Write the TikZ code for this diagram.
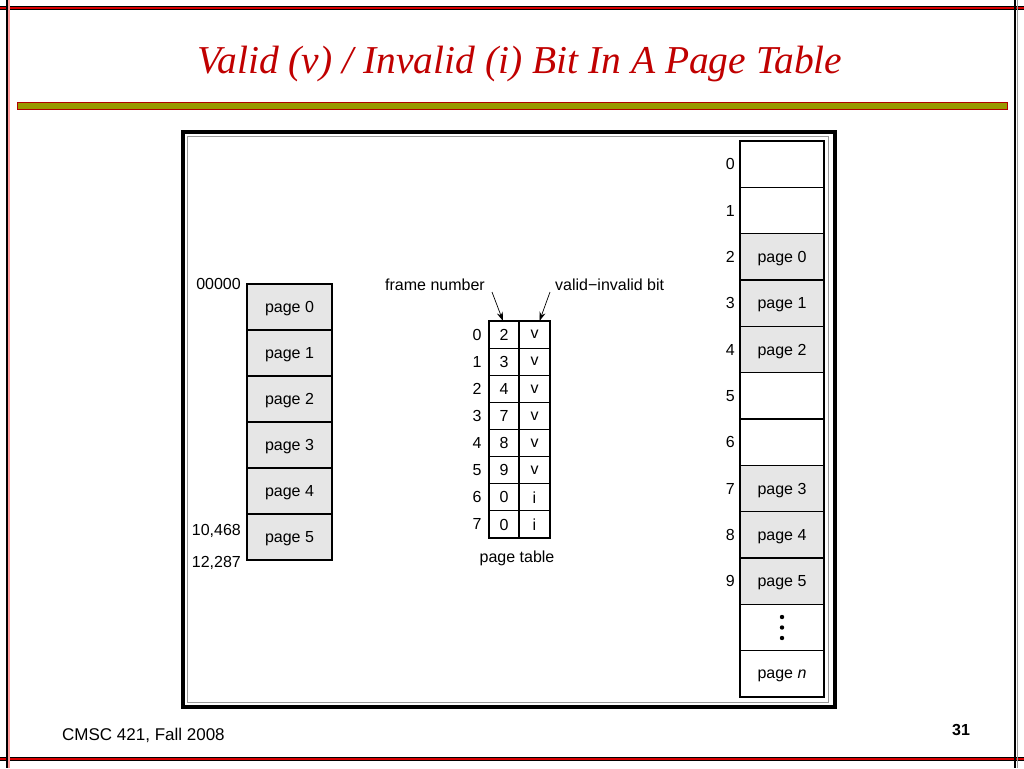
\documentclass[tikz,border=0pt]{standalone}
\usepackage{fontspec}
\setmainfont{Liberation Sans}
\newfontfamily\titlefont{Liberation Serif}
\usetikzlibrary{arrows.meta,calc}
\definecolor{titlered}{HTML}{C00000}
\definecolor{olivebar}{HTML}{999900}
\definecolor{cellgray}{HTML}{E6E6E6}
\definecolor{framegray}{HTML}{999999}
\tikzset{
  txt/.style={font=\fontsize{16}{19}\selectfont},
  lcell/.style={txt,draw=black,line width=1.1pt,fill=cellgray,minimum width=85pt,minimum height=46pt,inner sep=0pt,outer sep=0pt,text depth=0pt},
  rcell/.style={txt,draw=black,line width=1.1pt,minimum width=84pt,minimum height=46.33pt,inner sep=0pt,outer sep=0pt,text depth=0pt},
  rfull/.style={rcell,fill=cellgray},
  fcell/.style={txt,draw=black,line width=1.1pt,minimum width=30pt,minimum height=27.125pt,inner sep=0pt,outer sep=0pt,text depth=0pt},
  vcell/.style={txt,draw=black,line width=1.1pt,minimum width=31pt,minimum height=27.125pt,inner sep=0pt,outer sep=0pt,text depth=0pt},
  lbl/.style={txt,inner sep=0pt,text depth=0pt},
  ptr/.style={-{Stealth[length=9pt,width=6pt]},line width=0.7pt},
}
\begin{document}
\begin{tikzpicture}[x=1pt,y=-1pt]
\useasboundingbox (0,0) rectangle (1024,768);
\fill[white] (0,0) rectangle (1024,768);
% slide border
\draw[black,line width=4pt] (0,8.5) -- (1024,8.5);
\draw[red!85!black,line width=2pt] (0,8.5) -- (1024,8.5);
\draw[black,line width=4pt] (0,758.5) -- (1024,758.5);
\draw[red!85!black,line width=2pt] (0,758.5) -- (1024,758.5);
\draw[black,line width=2pt] (6.5,0) -- (6.5,768);
\draw[red!40,line width=1.5pt] (9,0) -- (9,768);
\draw[black,line width=2pt] (1014.5,0) -- (1014.5,768);
\draw[framegray,line width=1.5pt] (1017.5,0) -- (1017.5,768);
% title
\node[inner sep=0pt,anchor=base,text=titlered,font=\titlefont\itshape\fontsize{39.5}{42}\selectfont] (title) at (520,74) {Valid (v) / Invalid (i) Bit In A Page Table};
% olive bar
\draw[fill=olivebar,draw=red!70!black,line width=0.8pt] (17,102.5) rectangle (1007,109.5);
% diagram frame
\draw[black,line width=4pt] (182.5,131.5) rectangle (834.5,706.5);
\draw[framegray,line width=1.2pt] (187.5,136.5) rectangle (828.5,702.5);
% logical memory
\foreach \i in {0,...,5}{
  \node[lcell] (lm\i) at (289.5,{284+46*(\i+0.5)}) {page \i};
}
\node[lbl,anchor=east] (a0) at (241,284) {00000};
\node[lbl,anchor=east] (a1) at (241,530) {10,468};
\node[lbl,anchor=east] (a2) at (241,562) {12,287};
% page table
\foreach \i/\f/\v in {0/2/v,1/3/v,2/4/v,3/7/v,4/8/v,5/9/v,6/0/i,7/0/i}{
  \node[fcell] (pf\i) at (504,{321+27.125*(\i+0.5)}) {\f};
  \node[vcell] (pv\i) at (534.5,{321+27.125*(\i+0.5)}) {\v};
  \node[lbl] (pi\i) at (477,{321+27.125*(\i+0.5)}) {\i};
}
\node[lbl,anchor=east] (fn) at (485,285) {frame number};
\node[lbl,anchor=west] (vib) at (555,285) {valid−invalid bit};
\coordinate (fnstart) at (492,292);
\coordinate (vistart) at (550,292);
\draw[ptr] (fnstart) -- ([xshift=-1pt]pf0.north);
\draw[ptr] (vistart) -- ([xshift=5pt]pv0.north);
\node[lbl] (ptl) at (517,557) {page table};
% physical memory
\foreach \i/\s/\t in {0/rcell/,1/rcell/,2/rfull/page 0,3/rfull/page 1,4/rfull/page 2,5/rcell/,6/rcell/,7/rfull/page 3,8/rfull/page 4,9/rfull/page 5}{
  \node[\s] (pm\i) at (782,{141+46.333*(\i+0.5)}) {\t};
  \node[lbl,anchor=east] (pn\i) at (735,{141+46.333*(\i+0.5)}) {\i};
}
\node[rcell] (pmdots) at (782,{141+46.333*10.5}) {};
\foreach \k in {-10.5,0,10.5}{
  \fill ([yshift=\k pt]pmdots.center) circle (2.2pt);
}
\node[rcell] (pmn) at (782,{141+46.333*11.5}) {page \textit{n}};
% footer
\node[inner sep=0pt,anchor=west,font=\fontsize{17}{19}\selectfont] (foot) at (62,735) {CMSC 421, Fall 2008};
\node[inner sep=0pt,font=\bfseries\fontsize{16}{18}\selectfont] (num) at (961,730) {31};
\end{tikzpicture}
\end{document}
